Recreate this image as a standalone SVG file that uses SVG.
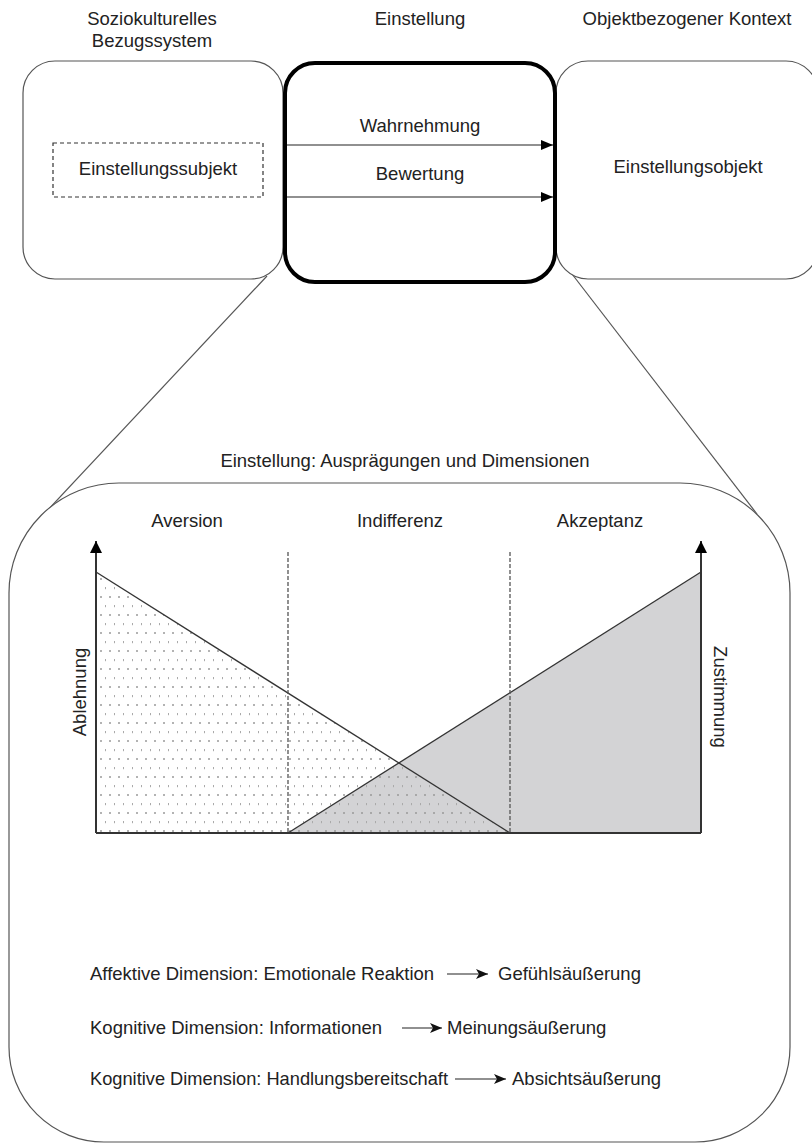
<svg xmlns="http://www.w3.org/2000/svg" width="812" height="1145" viewBox="0 0 812 1145">
  <style>
    text { font-family: "Liberation Sans", Arial, sans-serif; font-size: 18.5px; fill: #222; }
    .mid { text-anchor: middle; }
    .box { fill: #fff; stroke: #555; stroke-width: 1.2; }
    .thick { fill: #fff; stroke: #000; stroke-width: 4; }
    .thin { stroke: #555; stroke-width: 1.2; fill: none; }
    .dash { stroke: #555; stroke-width: 1.3; stroke-dasharray: 4 2; fill: none; }
    .curve { stroke: #333; stroke-width: 1.3; fill: none; }
    .axis { stroke: #333; stroke-width: 2; fill: none; }
    .conn { stroke: #222; stroke-width: 1.2; fill: none; }
  </style>
  <defs>
    <marker id="arrow" viewBox="0 0 12 10" refX="12" refY="5" markerWidth="12" markerHeight="10" markerUnits="userSpaceOnUse" orient="auto">
      <path d="M0,0 L12,5 L0,10 Z" fill="#000"/>
    </marker>
    <marker id="textArrow" viewBox="0 0 12 10" refX="12" refY="5" markerWidth="12" markerHeight="10" markerUnits="userSpaceOnUse" orient="auto">
      <path d="M0,0 L12,5 L0,10 L3,5 Z" fill="#111"/>
    </marker>
    <marker id="axisArrow" viewBox="0 0 12 12" refX="12" refY="6" markerWidth="12" markerHeight="12" markerUnits="userSpaceOnUse" orient="auto">
      <path d="M0,0 L12,6 L0,12 Z" fill="#000"/>
    </marker>
    <pattern id="dots" width="9" height="18" patternUnits="userSpaceOnUse">
      <circle cx="2" cy="3" r="1" fill="#999"/>
      <rect x="6" y="11" width="1" height="2.2" fill="#aaa"/>
    </pattern>
  </defs>

  <!-- zoom guide lines from the attitude box to the detail panel -->
  <g id="connectors">
    <line class="thin" x1="267" y1="276" x2="45" y2="513"/>
    <line class="thin" x1="572" y1="274" x2="757" y2="514"/>
  </g>

  <!-- column headings -->
  <g id="headings">
    <text class="mid" x="152" y="25">Soziokulturelles</text>
    <text class="mid" x="152" y="47">Bezugssystem</text>
    <text class="mid" x="420" y="25">Einstellung</text>
    <text class="mid" x="687" y="25">Objektbezogener Kontext</text>
  </g>

  <g id="subject-context">
    <rect class="box" x="23" y="61" width="260" height="218" rx="32"/>
    <rect x="53" y="143" width="210" height="54" fill="none" stroke="#333" stroke-width="1.2" stroke-dasharray="4 3"/>
    <text class="mid" x="158" y="175">Einstellungssubjekt</text>
  </g>

  <g id="object-context">
    <rect class="box" x="556" y="61" width="262" height="218" rx="32"/>
    <text class="mid" x="688" y="173">Einstellungsobjekt</text>
  </g>

  <g id="attitude">
    <rect class="thick" x="285" y="63" width="270" height="219" rx="30"/>
    <text class="mid" x="420" y="132">Wahrnehmung</text>
    <text class="mid" x="420" y="180">Bewertung</text>
    <line class="conn" x1="287" y1="145" x2="553" y2="145" marker-end="url(#arrow)"/>
    <line class="conn" x1="287" y1="197" x2="553" y2="197" marker-end="url(#arrow)"/>
  </g>

  <!-- detail panel: forms and dimensions of attitude -->
  <g id="detail-panel">
    <text class="mid" x="405" y="467">Einstellung: Ausprägungen und Dimensionen</text>
    <path class="box" d="M119 483 H680 A110 110 0 0 1 790 593 V1047 A95 95 0 0 1 695 1142 H104 A95 95 0 0 1 9 1047 V593 A110 110 0 0 1 119 483 Z"/>
  </g>

  <g id="chart">
    <text class="mid" x="187" y="527">Aversion</text>
    <text class="mid" x="400" y="527">Indifferenz</text>
    <text class="mid" x="600" y="527">Akzeptanz</text>

    <!-- acceptance area -->
    <polygon points="288,833 701,572 701,833" fill="#d3d3d5"/>
    <!-- rejection area -->
    <polygon points="96,572 96,833 510,833" fill="url(#dots)"/>

    <line class="curve" x1="96" y1="572" x2="510" y2="833"/>
    <line class="curve" x1="288" y1="833" x2="701" y2="572"/>

    <line class="dash" x1="288" y1="552" x2="288" y2="833"/>
    <line class="dash" x1="510" y1="552" x2="510" y2="833"/>

    <line class="axis" x1="96" y1="833" x2="701" y2="833"/>
    <line class="axis" x1="96" y1="833" x2="96" y2="541" marker-end="url(#axisArrow)"/>
    <line class="axis" x1="701" y1="833" x2="701" y2="541" marker-end="url(#axisArrow)"/>

    <text class="mid" transform="translate(86 692) rotate(-90)">Ablehnung</text>
    <text class="mid" transform="translate(714 697) rotate(90)">Zustimmung</text>
  </g>

  <g id="dimensions">
    <text x="90" y="980">Affektive Dimension: Emotionale Reaktion</text>
    <line class="conn" x1="447" y1="974" x2="488" y2="974" marker-end="url(#textArrow)"/>
    <text x="498" y="980">Gefühlsäußerung</text>

    <text x="90" y="1034">Kognitive Dimension: Informationen</text>
    <line class="conn" x1="402" y1="1028" x2="442" y2="1028" marker-end="url(#textArrow)"/>
    <text x="447" y="1034">Meinungsäußerung</text>

    <text x="90" y="1085" textLength="358" lengthAdjust="spacingAndGlyphs">Kognitive Dimension: Handlungsbereitschaft</text>
    <line class="conn" x1="455" y1="1079" x2="506" y2="1079" marker-end="url(#textArrow)"/>
    <text x="512" y="1085">Absichtsäußerung</text>
  </g>
</svg>
